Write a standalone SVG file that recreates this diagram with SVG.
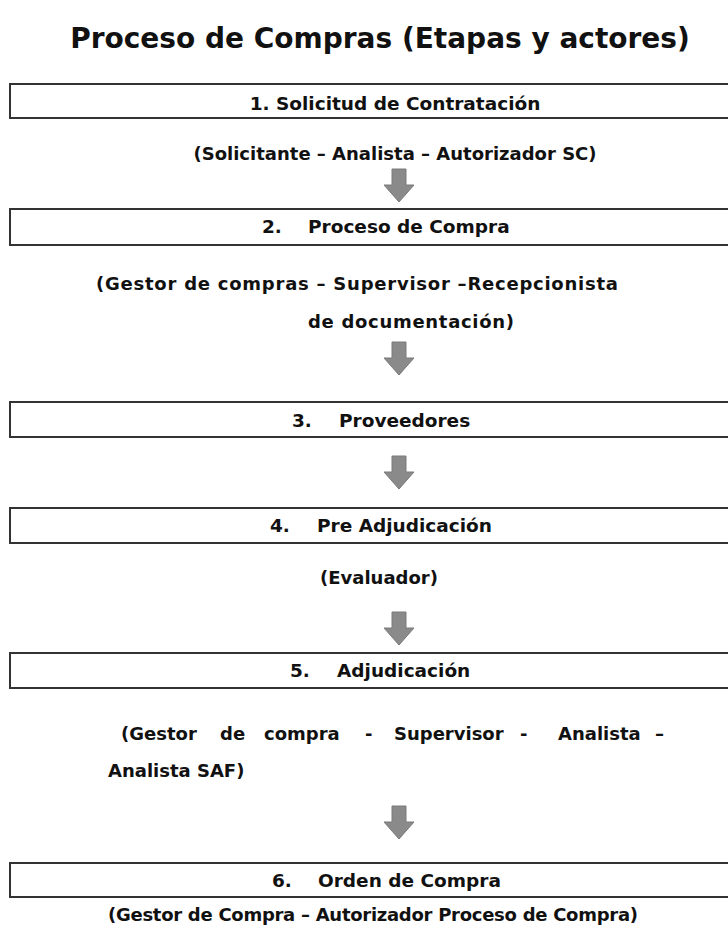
<svg xmlns="http://www.w3.org/2000/svg" width="728" height="933" viewBox="0 0 728 933">
  <defs>
    <style>
      text { font-family: "DejaVu Sans", Verdana, sans-serif; font-weight: bold; fill: #111; }
      .title { font-size: 28px; }
      .label { font-size: 18.5px; }
      .actor { font-size: 18px; }
      .box { fill: #fff; stroke: #333; stroke-width: 2; }
      .arrow { fill: #8a8a8a; stroke: #7a7a7a; stroke-width: 1; stroke-linejoin: round; }
    </style>
    <!-- block arrow pointing down, origin at top-centre -->
    <path id="down" class="arrow" d="M -7 0 H 7 V 16 H 15 L 0 33 L -15 16 H -7 Z"/>
  </defs>

  <rect width="728" height="933" fill="#fff"/>

  <text class="title" x="380" y="48" text-anchor="middle">Proceso de Compras (Etapas y actores)</text>

  <g id="etapa1">
    <rect class="box" x="10" y="84" width="740" height="34"/>
    <text class="label" x="395" y="110" text-anchor="middle">1. Solicitud de Contratación</text>
    <text class="actor" x="395" y="160" text-anchor="middle">(Solicitante – Analista – Autorizador SC)</text>
  </g>

  <g id="etapa2">
    <rect class="box" x="10" y="209" width="740" height="36"/>
    <text class="label" y="233"><tspan x="262">2.</tspan><tspan x="308">Proceso de Compra</tspan></text>
    <text class="actor" x="96" y="290" textLength="522" lengthAdjust="spacing">(Gestor de compras – Supervisor –Recepcionista</text>
    <text class="actor" x="308" y="328" textLength="206" lengthAdjust="spacing">de documentación)</text>
  </g>

  <g id="etapa3">
    <rect class="box" x="10" y="402" width="740" height="35"/>
    <text class="label" y="427"><tspan x="292">3.</tspan><tspan x="339">Proveedores</tspan></text>
  </g>

  <g id="etapa4">
    <rect class="box" x="10" y="508" width="740" height="35"/>
    <text class="label" y="532"><tspan x="270">4.</tspan><tspan x="317">Pre Adjudicación</tspan></text>
    <text class="actor" x="379" y="584" text-anchor="middle">(Evaluador)</text>
  </g>

  <g id="etapa5">
    <rect class="box" x="10" y="653" width="740" height="35"/>
    <text class="label" y="677"><tspan x="290">5.</tspan><tspan x="337">Adjudicación</tspan></text>
    <text class="actor" y="740"><tspan x="121">(Gestor</tspan><tspan x="220">de</tspan><tspan x="264">compra</tspan><tspan x="365">-</tspan><tspan x="394">Supervisor</tspan><tspan x="520">-</tspan><tspan x="558">Analista</tspan><tspan x="655">–</tspan></text>
    <text class="actor" x="108" y="777">Analista SAF)</text>
  </g>

  <g id="etapa6">
    <rect class="box" x="10" y="863" width="740" height="34"/>
    <text class="label" y="887"><tspan x="272">6.</tspan><tspan x="318">Orden de Compra</tspan></text>
    <text class="actor" x="108" y="921" textLength="530" lengthAdjust="spacing">(Gestor de Compra – Autorizador Proceso de Compra)</text>
  </g>

  <g id="connectors">
    <use href="#down" x="399" y="169"/>
    <use href="#down" x="399" y="342"/>
    <use href="#down" x="399" y="456"/>
    <use href="#down" x="399" y="612"/>
    <use href="#down" x="399" y="806"/>
  </g>
</svg>
